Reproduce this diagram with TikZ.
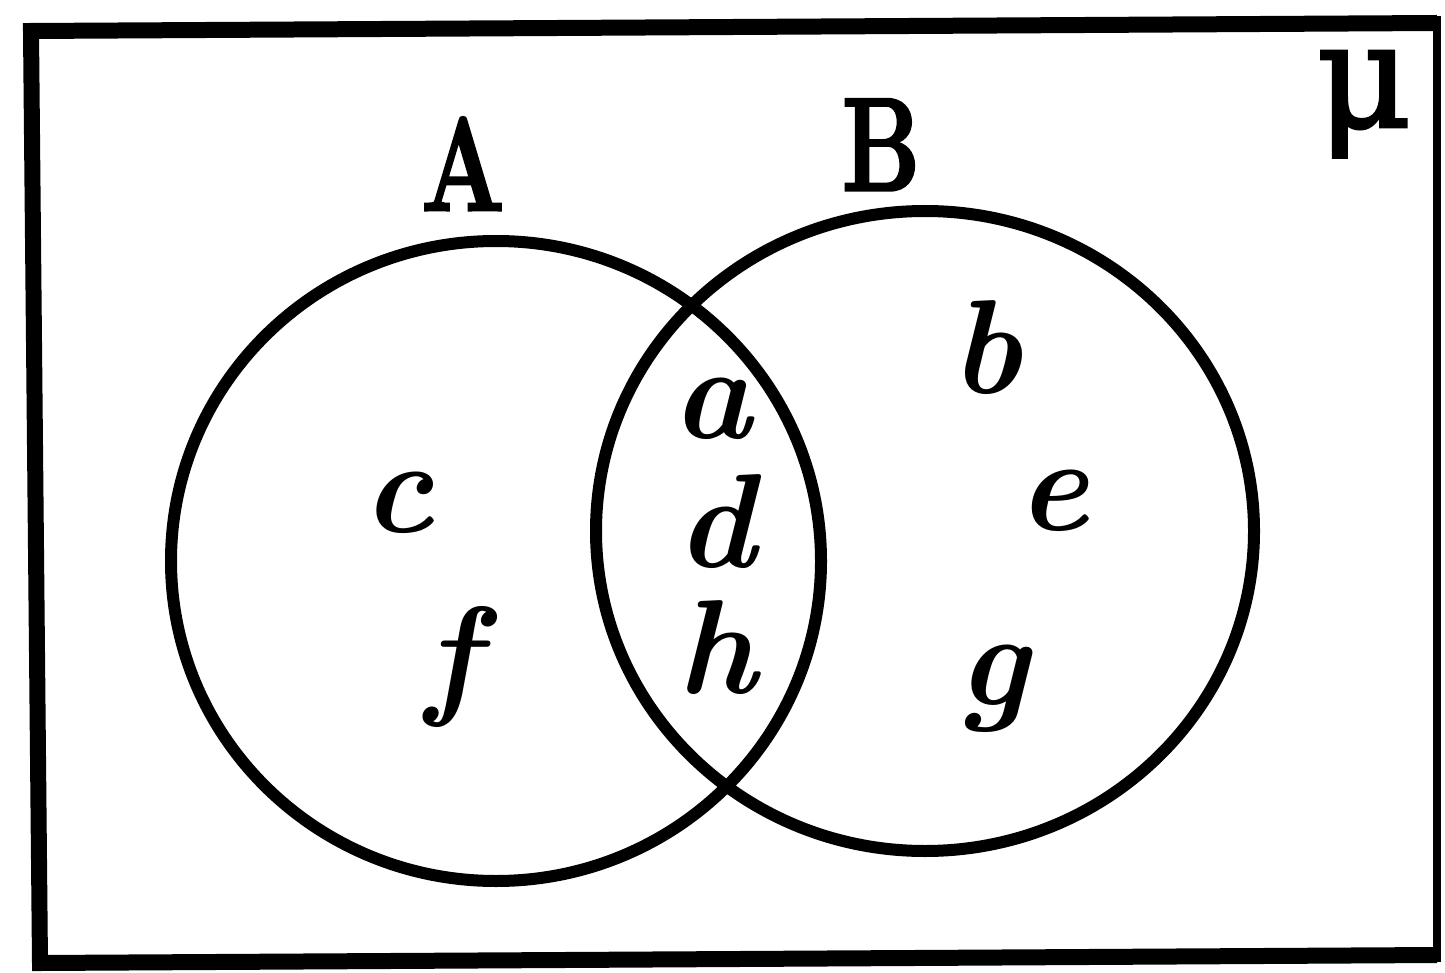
\documentclass[tikz,border=0pt]{standalone}
\usepackage{fontspec}
\newfontfamily\grk[FakeBold=2]{DejaVu Serif}
\newfontfamily\capfont[FakeBold=2.5]{Latin Modern Roman}
\begin{document}
\begin{tikzpicture}[x=1pt,y=-1pt,
  setring/.style={line width=12pt},
  elem/.style={anchor=base, inner sep=0pt, font=\fontsize{134}{140}\selectfont\bfseries\itshape},
  setname/.style={anchor=base, inner sep=0pt, font=\fontsize{132}{140}\selectfont\capfont\bfseries},
  universe/.style={anchor=base, inner sep=0pt, font=\fontsize{146}{146}\selectfont\grk},
  frame/.style={line width=16pt, line join=miter}]
\useasboundingbox (0,0) rectangle (1445,973);
% frame
\draw[frame] (1437,23) -- (31,31) -- (40,963) -- (1437,955);
\draw[line width=8pt] (1437,16) -- (1437,962);
% sets
\draw[setring] (496,561) ellipse [x radius=325, y radius=320];
\draw[setring] (925,531) ellipse [x radius=329, y radius=320];
% labels
\node[setname] (lA) at (463,210) {\scalebox{0.74}[1]{A}};
\node[setname] (lB) at (881,190) {\scalebox{0.74}[1]{B}};
\node[universe] (lU) at (1364,127) {μ};
% elements
\node[elem] (ec) at (398,532) {c};
\node[elem] (ef) at (452,700) {f};
\node[elem] (ea) at (712,438) {a};
\node[elem] (ed) at (716,567) {d};
\node[elem] (eh) at (717,693) {h};
\node[elem] (eb) at (986,393) {b};
\node[elem] (ee) at (1053,530) {e};
\node[elem] (eg) at (993,705) {g};
\end{tikzpicture}
\end{document}
